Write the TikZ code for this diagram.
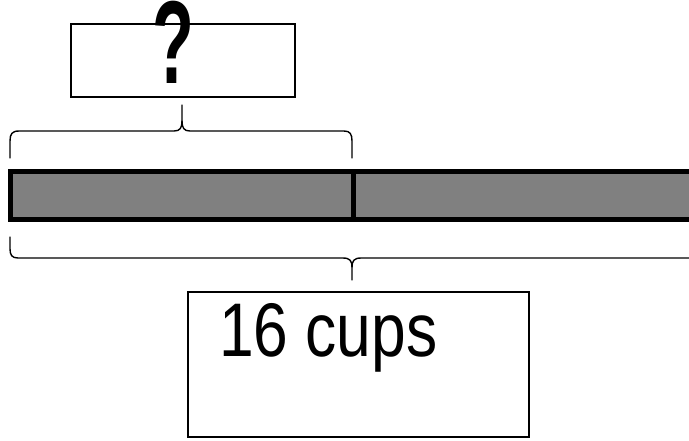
\documentclass[tikz,border=0pt]{standalone}
\usepackage{fontspec}
\setmainfont{Liberation Sans}
\begin{document}
\begin{tikzpicture}[x=1pt,y=-1pt]
\useasboundingbox (0,0) rectangle (689,440);
\clip (0,0) rectangle (689,440);
\tikzset{
  box/.style={draw, line width=2pt, fill=white, inner sep=0pt},
  seg/.style={draw, line width=5pt, fill=black!50, inner sep=0pt},
  bracestroke/.style={draw, line width=1.4pt, line cap=round},
}
% bar
\node[seg, minimum width=342.5pt, minimum height=47.5pt] (segA) at (181.75,195.25) {};
\node[seg, minimum width=347pt, minimum height=47.5pt] (segB) at (526.5,195.25) {};
% top box
\node[box, minimum width=224pt, minimum height=73pt] (qbox) at (183,60.5) {};
\node[anchor=base, inner sep=0pt] (qmark) at (173,83) {\scalebox{0.58}[1]{\fontsize{118}{120}\selectfont\bfseries ?}};
% bottom box
\node[box, minimum width=341pt, minimum height=145pt] (abox) at (358.5,364.5) {};
\node[anchor=base west, inner sep=0pt] (atext) at (219,356) {\scalebox{0.82}[1]{\fontsize{76}{80}\selectfont 16 cups}};
% upper brace
\coordinate (ubl) at (10,158);
\coordinate (ubt) at (182,105);
\coordinate (ubr) at (352,158);
\draw[bracestroke] (ubl) -- (10,141) .. controls (10,134) and (12,131) .. (19,131) -- (174,131)
  .. controls (180,131) and (182,128) .. (182,121) -- (ubt);
\draw[bracestroke] (182,121) .. controls (182,128) and (184,131) .. (190,131) -- (344,131)
  .. controls (350,131) and (352,134) .. (352,141) -- (ubr);
% lower brace
\coordinate (lbl) at (10,237);
\coordinate (lbt) at (352,280);
\coordinate (lbr) at (700,258);
\draw[bracestroke] (lbl) -- (10,249) .. controls (10,255) and (12,258) .. (18,258) -- (343,258)
  .. controls (350,258) and (352,261) .. (352,267) -- (lbt);
\draw[bracestroke] (352,267) .. controls (352,261) and (354,258) .. (361,258) -- (lbr);
\end{tikzpicture}
\end{document}
